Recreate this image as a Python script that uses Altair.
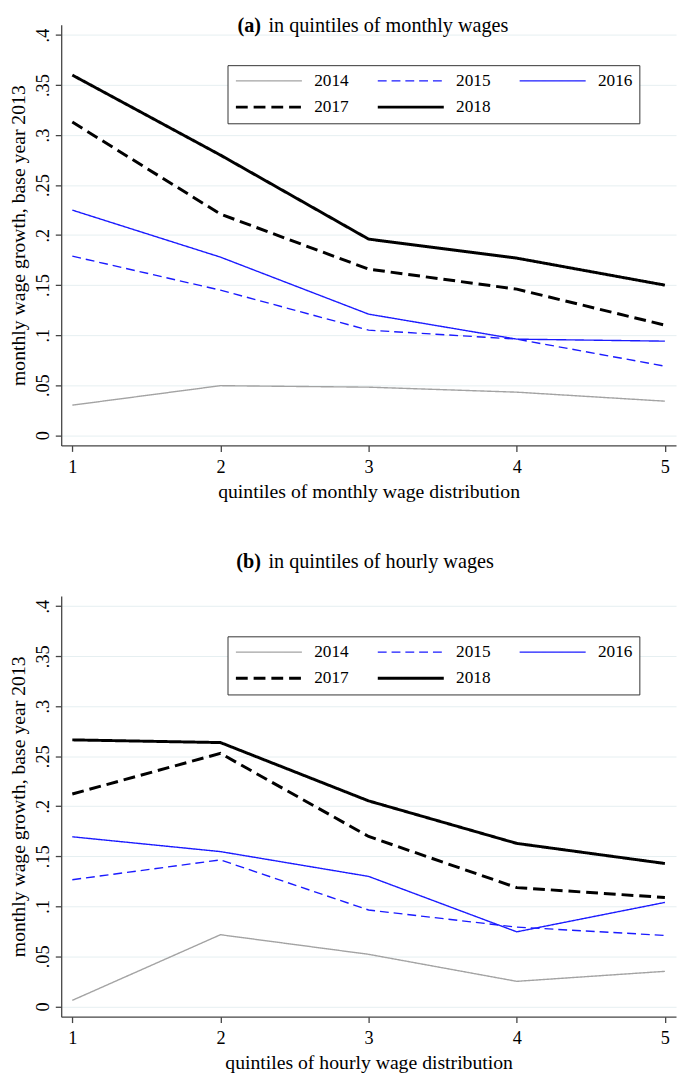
import altair as alt
import pandas as pd

FONT = "Liberation Serif"

quintiles = [1, 2, 3, 4, 5]
years = ["2014", "2015", "2016", "2017", "2018"]
y_ticks = [0, 0.05, 0.1, 0.15, 0.2, 0.25, 0.3, 0.35, 0.4]

# (a) monthly wage quintiles
monthly_2014 = [0.030, 0.0495, 0.048, 0.043, 0.034]
monthly_2015 = [0.179, 0.145, 0.105, 0.096, 0.069]
monthly_2016 = [0.225, 0.178, 0.121, 0.096, 0.094]
monthly_2017 = [0.313, 0.221, 0.166, 0.146, 0.110]
monthly_2018 = [0.360, 0.280, 0.196, 0.177, 0.150]

# (b) hourly wage quintiles
hourly_2014 = [0.006, 0.0716, 0.052, 0.025, 0.035]
hourly_2015 = [0.1266, 0.1464, 0.0963, 0.0792, 0.0709]
hourly_2016 = [0.1695, 0.1547, 0.1299, 0.0745, 0.1039]
hourly_2017 = [0.2123, 0.2529, 0.1698, 0.1187, 0.1088]
hourly_2018 = [0.2664, 0.2637, 0.2054, 0.1629, 0.1428]

colors = ["#a3a3a3", "#1a1aff", "#1a1aff", "#000000", "#000000"]
dashes = [[1, 0], [9, 5], [1, 0], [12, 6], [1, 0]]
widths = [1.4, 1.4, 1.4, 3.0, 3.0]


def make_df(series):
    rows = []
    for yr, vals in zip(years, series):
        for q, v in zip(quintiles, vals):
            rows.append({"q": q, "v": v, "year": yr})
    return pd.DataFrame(rows)


df_a = make_df([monthly_2014, monthly_2015, monthly_2016, monthly_2017, monthly_2018])
df_b = make_df([hourly_2014, hourly_2015, hourly_2016, hourly_2017, hourly_2018])

W, H = 624, 427


def panel(df, label, rest, xtitle, title_y):
    leg = alt.Legend(
        title=None, orient="none", legendX=168.8, legendY=41, columns=3,
        direction="horizontal",
        symbolType="stroke", symbolSize=4489, clipHeight=18,
        labelFont=FONT, labelFontSize=17.5, labelColor="black", labelOffset=11,
        columnPadding=28, rowPadding=8.6, padding=7,
        strokeColor="#333333", fillColor="white", labelBaseline="middle",
    )
    lines = alt.Chart(df).mark_line().encode(
        x=alt.X("q:Q",
                scale=alt.Scale(domain=[0.925, 5.075], nice=False, zero=False),
                axis=alt.Axis(values=quintiles, format="d", title=xtitle, grid=False,
                              labelPadding=6.5, titleX=W / 2, titleY=52.3,
                              titleAlign="center", titleBaseline="alphabetic")),
        y=alt.Y("v:Q",
                scale=alt.Scale(domain=[-0.0103, 0.4103], nice=False, zero=False),
                axis=alt.Axis(values=y_ticks, grid=True,
                              labelExpr="datum.value == 0 ? '0' : substring(format(datum.value, '.2~f'), 1)",
                              labelAngle=270, labelAlign="center", labelBaseline="alphabetic",
                              labelPadding=6.4,
                              title="monthly wage growth, base year 2013",
                              titleAngle=270, titleX=-37, titleY=H / 2,
                              titleAlign="center", titleBaseline="alphabetic")),
        color=alt.Color("year:O", scale=alt.Scale(domain=years, range=colors), legend=leg),
        strokeDash=alt.StrokeDash("year:O", scale=alt.Scale(domain=years, range=dashes), legend=leg),
        strokeWidth=alt.StrokeWidth("year:O", scale=alt.Scale(type="ordinal", domain=years, range=widths), legend=leg),
    )
    tdf = pd.DataFrame({"lab": [label], "rest": [rest]})
    t1 = alt.Chart(tdf).mark_text(align="right", baseline="alphabetic", fontWeight="bold",
                                  fontSize=20.5, font=FONT, color="black").encode(
        text="lab:N", x=alt.value(202.8), y=alt.value(title_y))
    t2 = alt.Chart(tdf).mark_text(align="left", baseline="alphabetic", fontWeight="normal",
                                  fontSize=20.5, font=FONT, color="black").encode(
        text="rest:N", x=alt.value(210.3), y=alt.value(title_y))
    return alt.layer(lines, t1, t2).properties(width=W, height=H)


pa = panel(df_a, "(a)", "in quintiles of monthly wages", "quintiles of monthly wage distribution", 7.5)
pb = panel(df_b, "(b)", "in quintiles of hourly wages", "quintiles of hourly wage distribution", -28.5)

chart = (
    alt.vconcat(pa, pb, spacing=50.7)
    .resolve_scale(color="independent", strokeDash="independent", strokeWidth="independent")
    .resolve_legend(color="independent", strokeDash="independent", strokeWidth="independent")
    .properties(padding=0)
    .configure(font=FONT)
    .configure_view(stroke="transparent")
    .configure_axis(
        domainColor="#444444", domainWidth=1.3, tickColor="#444444", tickWidth=1.3, tickSize=6,
        labelFont=FONT, labelFontSize=18.5, labelColor="black",
        titleFont=FONT, titleFontSize=20, titleFontWeight="normal", titleColor="black",
        gridColor="#e6eff1", gridWidth=1,
    )
)

chart.save("out.html", embed_options={"renderer": "svg", "actions": False})
